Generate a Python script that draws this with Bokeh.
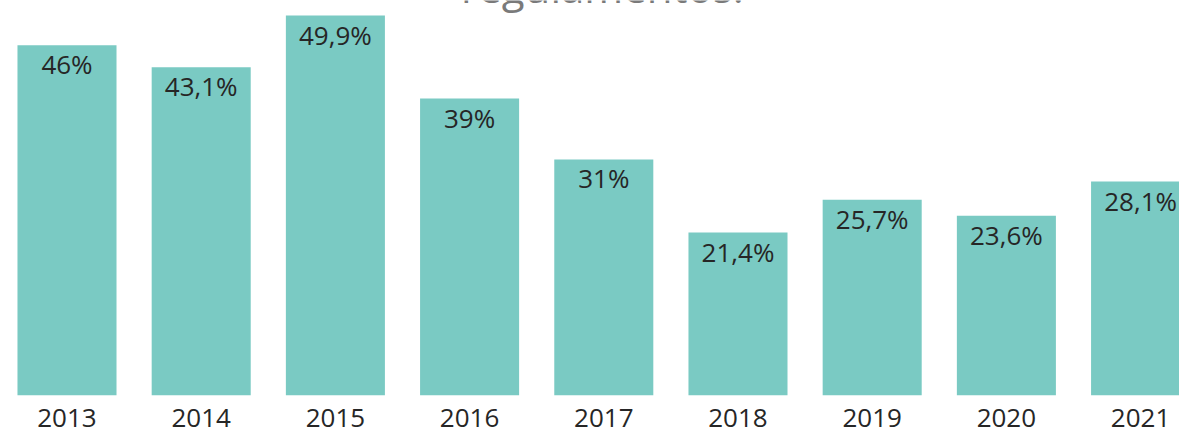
from bokeh.plotting import figure
from bokeh.models import ColumnDataSource, FixedTicker, Range1d
from bokeh.core.properties import value
from bokeh.embed import file_html
from bokeh.resources import INLINE

years = ["2013", "2014", "2015", "2016", "2017", "2018", "2019", "2020", "2021"]
values = [46.0, 43.1, 49.9, 39.0, 31.0, 21.4, 25.7, 23.6, 28.1]
labels = ["46%", "43,1%", "49,9%", "39%", "31%", "21,4%", "25,7%", "23,6%", "28,1%"]
title_text = "regulamentos."

xs = list(range(len(years)))
src = ColumnDataSource(dict(x=xs, top=values, label=labels))

Y_END = 51.87
p = figure(width=1179, height=432, output_backend="svg", toolbar_location=None,
           x_range=Range1d(-0.4955, 8.29), y_range=Range1d(0, Y_END),
           min_border_left=0, min_border_right=0, min_border_top=0, min_border_bottom=37)

p.vbar(x="x", top="top", bottom=0, width=0.738, source=src,
       fill_color="#7ACAC3", line_color=None)

p.text(x="x", y="top", text="label", source=src, text_align="center",
       text_baseline="alphabetic", y_offset=19, text_font=value("Open Sans"),
       text_font_size="26px", text_color="#262626")

# partially visible title (cut off by the top edge)
p.text(x=[3.99], y=[Y_END], text=[title_text], text_align="center",
       text_baseline="alphabetic", y_offset=-14, text_font=value("Open Sans"),
       text_font_size="42px", text_color="#7a7a7a")

p.yaxis.visible = False
p.xaxis.ticker = FixedTicker(ticks=xs)
p.xaxis.major_label_overrides = {i: y for i, y in zip(xs, years)}
p.xaxis.axis_line_color = None
p.xaxis.major_tick_line_color = None
p.xaxis.minor_tick_line_color = None
p.xaxis.major_label_standoff = 7
p.xaxis.major_label_text_font = "Open Sans"
p.xaxis.major_label_text_font_size = "26px"
p.xaxis.major_label_text_color = "#262626"
p.xgrid.visible = False
p.ygrid.visible = False
p.outline_line_color = None

open("out.html", "w").write(file_html(p, INLINE))
